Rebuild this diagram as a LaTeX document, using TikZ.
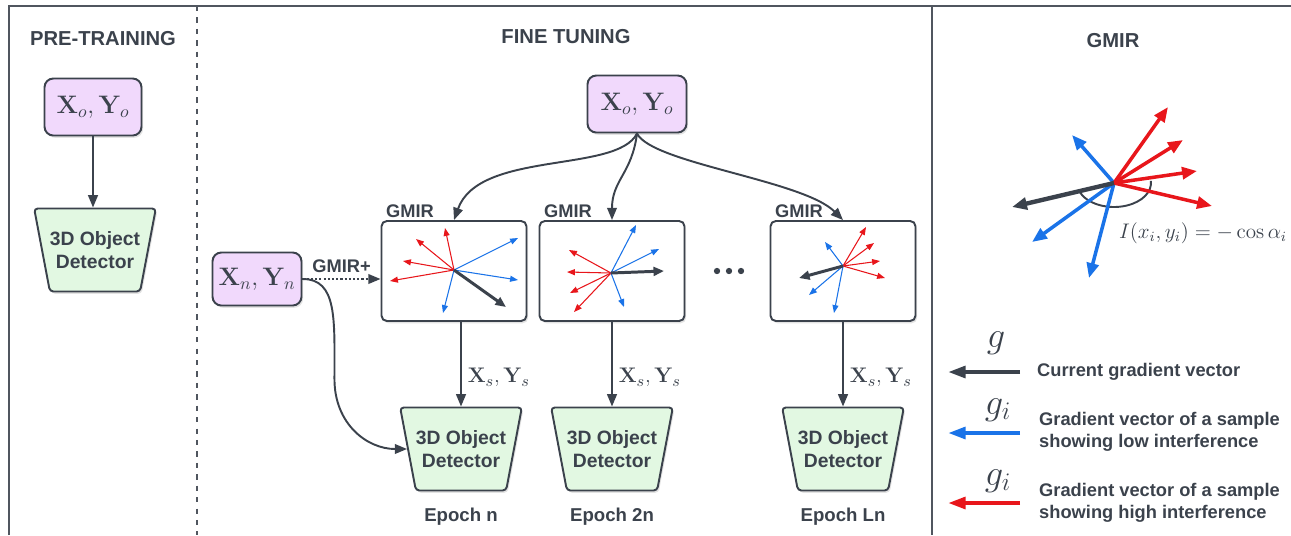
\documentclass[tikz,border=0pt]{standalone}
\usepackage[no-math]{fontspec}
\setmainfont{Liberation Sans}
\usetikzlibrary{arrows.meta, shapes.geometric, shadows, positioning}

\definecolor{ink}{HTML}{3B424C}
\definecolor{rim}{HTML}{50565F}
\definecolor{lav}{HTML}{F1D9FC}
\definecolor{grn}{HTML}{E2F8E2}
\definecolor{redv}{HTML}{E8161B}
\definecolor{bluev}{HTML}{1A73E8}

\begin{document}
\begin{tikzpicture}[x=0.02cm, y=0.02cm]
    \tikzstyle{every node} = [text=ink]
    \tikzstyle{frame} = [draw=rim, line width=1.1pt]
    \tikzstyle{title} = [font=\fontsize{11.5}{13}\selectfont\bfseries]
    \tikzstyle{lbl} = [font=\fontsize{10.4}{12.2}\selectfont\bfseries]
    \tikzstyle{mth} = [font=\fontsize{13}{15}\selectfont]
    \tikzstyle{shade} = [drop shadow={shadow xshift=0.9pt, shadow yshift=-1.3pt, opacity=0.22}]
    \tikzstyle{data} = [draw=ink, line width=1.1pt, fill=lav, rounded corners=5pt, shade,
                        font=\fontsize{14}{16}\selectfont]
    \tikzstyle{gbox} = [draw=ink, line width=1.1pt, fill=white, rounded corners=3pt, shade,
                        minimum width=2.9cm, minimum height=2cm]
    \tikzstyle{det} = [trapezium, trapezium angle=113, trapezium stretches=true,
                       draw=ink, line width=1.1pt, fill=grn, rounded corners=2pt, shade,
                       minimum width=2.2cm, minimum height=1.66cm, align=center, inner sep=0pt,
                       font=\fontsize{11}{13}\selectfont\bfseries]
    \tikzstyle{arr} = [draw=ink, line width=1.1pt, -{Triangle[length=7pt, width=5.5pt]}]
    \tikzstyle{rv} = [draw=redv, line width=0.6pt, -{Triangle[length=4.5pt, width=3.4pt]}]
    \tikzstyle{bv} = [draw=bluev, line width=0.6pt, -{Triangle[length=4.5pt, width=3.4pt]}]
    \tikzstyle{kv} = [draw=ink, line width=1.7pt, -{Triangle[length=6pt, width=5pt]}]
    \tikzstyle{bigv} = [line width=2pt, -{Triangle[length=8.5pt, width=6.8pt]}]
    \tikzstyle{legv} = [line width=2.3pt, -{Triangle[length=10pt, width=6.6pt]}]

    \useasboundingbox (0,0) rectangle (1291,-535);

    \draw[frame] (9,-535) -- (9,-6) -- (1291,-6);
    \draw[frame] (932,-6) -- (932,-535);
    \draw[frame, line width=0.9pt, dash pattern=on 3pt off 3.5pt] (197,-6) -- (197,-535);

    \node[title] (tpre) at (103,-39) {PRE-TRAINING};
    \node[title] (tfine) at (566,-37) {FINE TUNING};
    \node[title] (tgmir) at (1113,-41) {GMIR};

    \node[data, minimum width=1.94cm, minimum height=1.14cm] (pre) at (93,-107) {$\mathbf{X}_o, \mathbf{Y}_o$};
    \node[det] (pdet) at (95,-250) {3D Object\\Detector};
    \draw[arr] (pre.south) -- (pre.south |- pdet.north);

    \node[data, minimum width=1.98cm, minimum height=1.14cm] (xo) at (637,-104) {$\mathbf{X}_o, \mathbf{Y}_o$};
    \node[data, minimum width=1.78cm, minimum height=1.06cm] (xn) at (257,-279) {$\mathbf{X}_n, \mathbf{Y}_n$};

    \node[gbox] (g1) at (454,-271) {};
    \node[gbox] (g2) at (612,-271) {};
    \node[gbox] (g3) at (843,-271) {};
    \foreach \b in {g1, g2, g3}
      \node[lbl, anchor=south west, inner sep=1pt] (lbl\b) at ([xshift=2pt]\b.north west) {GMIR};

    \foreach \i in {0, 1, 2}
      \fill[ink] (717+\i*12,-271) circle (1.8pt);

    \node[det] (d1) at (461,-449) {3D Object\\Detector};
    \node[det] (d2) at (612,-449) {3D Object\\Detector};
    \node[det] (d3) at (843,-449) {3D Object\\Detector};
    \node[lbl, font=\fontsize{10.6}{12}\selectfont\bfseries] (e1) at (461,-517) {Epoch n};
    \node[lbl, font=\fontsize{10.6}{12}\selectfont\bfseries] (e2) at (612,-517) {Epoch 2n};
    \node[lbl, font=\fontsize{10.6}{12}\selectfont\bfseries] (e3) at (843,-517) {Epoch Ln};

    \draw[arr] (xo.south) .. controls +(-20,-40) and +(25,70) .. (g1.north);
    \draw[arr] (xo.south) .. controls +(-5,-40) and +(0,40) .. (g2.north);
    \draw[arr] (xo.south) .. controls +(15,-30) and +(-40,40) .. (g3.north);

    \draw[arr] (g1.south -| d1.north) -- (d1.north) node[mth, right, pos=0.66] {$\mathbf{X}_s, \mathbf{Y}_s$};
    \draw[arr] (g2.south -| d2.north) -- (d2.north) node[mth, right, pos=0.66] {$\mathbf{X}_s, \mathbf{Y}_s$};
    \draw[arr] (g3.south -| d3.north) -- (d3.north) node[mth, right, pos=0.66] {$\mathbf{X}_s, \mathbf{Y}_s$};

    \draw[arr, dash pattern=on 1.2pt off 1.2pt] (xn.east) -- (xn.east -| g1.west) node[lbl, midway, above] (gplus) {GMIR+};
    \draw[arr] (xn.east) .. controls +(35,0) and +(0,60) .. ++(32,-100)
                         .. controls +(0,-45) and +(-40,0) .. (d1.west);

    \coordinate (c1) at (454,-270);
    \foreach \x/\y in {445/228, 416/239, 403/261, 390/281}
      \draw[rv] (c1) -- (\x,-\y);
    \foreach \x/\y in {518/238, 518/280, 443/313}
      \draw[bv] (c1) -- (\x,-\y);
    \draw[kv] (c1) -- (506,-307);

    \coordinate (c2) at (611,-273);
    \foreach \x/\y in {569/250, 567/272, 570/293, 574/312}
      \draw[rv] (c2) -- (\x,-\y);
    \foreach \x/\y in {636/225, 659/249, 624/307}
      \draw[bv] (c2) -- (\x,-\y);
    \draw[kv] (c2) -- (664,-271);

    \coordinate (c3) at (843,-266);
    \foreach \x/\y in {866/227, 874/243, 880/261, 885/278}
      \draw[rv] (c3) -- (\x,-\y);
    \foreach \x/\y in {825/242, 809/295, 834/313}
      \draw[bv] (c3) -- (\x,-\y);
    \draw[kv] (c3) -- (799,-278);

    \coordinate (gc) at (1114,-183);
    \draw[ink, line width=1.1pt] (gc) ++(200:0.74cm and 0.48cm) arc[start angle=200, end angle=365, x radius=0.74cm, y radius=0.48cm];
    \foreach \x/\y in {1072/135, 1032/242, 1089/278}
      \draw[bigv, bluev] (gc) -- (\x,-\y);
    \foreach \x/\y in {1168/107, 1183/140, 1197/171, 1212/206}
      \draw[bigv, redv] (gc) -- (\x,-\y);
    \draw[bigv, ink, line width=2.5pt] (gc) -- (1012,-207);
    \node[mth, font=\fontsize{11.5}{13}\selectfont] (infl) at (1203,-233) {$I(x_i, y_i) = -\cos\alpha_i$};

    \node[font=\fontsize{20}{22}\selectfont] (lg1) at (996,-343) {$g$};
    \draw[legv, ink] (1020,-372) -- (948,-372);
    \node[lbl, anchor=west] (lt1) at (1031,-372) {Current gradient vector};
    \node[font=\fontsize{20}{22}\selectfont] (lg2) at (998,-410) {$g_i$};
    \draw[legv, bluev] (1020,-433) -- (948,-433);
    \node[lbl, anchor=west, align=left] (lt2) at (1033,-432) {Gradient vector of a sample\\showing low interference};
    \node[font=\fontsize{20}{22}\selectfont] (lg3) at (998,-481) {$g_i$};
    \draw[legv, redv] (1020,-503) -- (948,-503);
    \node[lbl, anchor=west, align=left] (lt3) at (1033,-503) {Gradient vector of a sample\\showing high interference};
\end{tikzpicture}
\end{document}
